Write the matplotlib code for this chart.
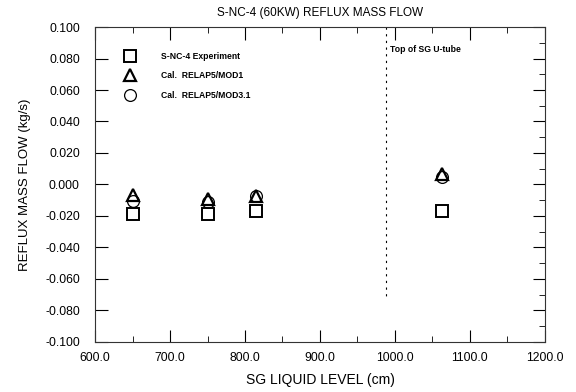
import matplotlib
matplotlib.use("Agg")
import matplotlib.pyplot as plt
from matplotlib.ticker import MultipleLocator, FormatStrFormatter

plt.rcParams['font.family'] = ['Liberation Sans', 'DejaVu Sans']

# Data
level = [650.0, 750.0, 815.0, 1063.0]
exp_flow = [-0.0185, -0.0185, -0.017, -0.017]
mod1_flow = [-0.0065, -0.009, -0.0075, 0.0065]
mod31_flow = [-0.0105, -0.011, -0.0075, 0.0045]
uTubeTop = 988.0

xticks = [600, 700, 800, 900, 1000, 1100, 1200]
yticks = [0.100, 0.080, 0.060, 0.040, 0.020, 0.000, -0.020, -0.040, -0.060, -0.080, -0.100]

fig = plt.figure(figsize=(5.76, 3.92), dpi=100)
ax = fig.add_axes([0.165, 0.128, 0.781, 0.803])

ax.plot(level, mod31_flow, linestyle='none', marker='o', markersize=8.5,
        markerfacecolor='none', markeredgecolor='black', markeredgewidth=0.9,
        label='Cal.  RELAP5/MOD3.1', zorder=3)
ax.plot(level, mod1_flow, linestyle='none', marker='^', markersize=8,
        markerfacecolor='none', markeredgecolor='black', markeredgewidth=1.6,
        label='Cal.  RELAP5/MOD1', zorder=4)
ax.plot(level, exp_flow, linestyle='none', marker='s', markersize=9,
        markerfacecolor='none', markeredgecolor='black', markeredgewidth=1.4,
        label='S-NC-4 Experiment', zorder=5)

ax.set_xlim(600, 1200)
ax.set_ylim(-0.100, 0.100)
ax.set_xticks(xticks)
ax.set_yticks(yticks)
ax.xaxis.set_major_formatter(FormatStrFormatter('%.1f'))
ax.yaxis.set_major_formatter(FormatStrFormatter('%.3f'))
ax.xaxis.set_minor_locator(MultipleLocator(50))
ax.yaxis.set_minor_locator(MultipleLocator(0.01))

ax.tick_params(axis='both', which='major', direction='in', length=9, width=0.8,
               top=True, right=True, colors='black')
ax.tick_params(axis='x', which='major', pad=7, labelsize=8.8)
ax.tick_params(axis='y', which='major', pad=11, labelsize=8.8)
ax.tick_params(axis='both', which='minor', direction='in', length=4, width=0.6,
               top=True, right=True, left=False)

for s in ax.spines.values():
    s.set_linewidth(0.8)
    s.set_color('#333333')

# Top of SG U-tube marker line
ax.plot([uTubeTop, uTubeTop], [0.100, -0.073], color='black', linewidth=0.8,
        linestyle=(0, (2, 4)), zorder=2)
ax.text(993, 0.086, 'Top of SG U-tube', fontsize=6.2, fontweight='bold',
        ha='left', va='center')

# Legend (custom positioned)
handles, labels = ax.get_legend_handles_labels()
order = [2, 1, 0]
leg = ax.legend([handles[i] for i in order], [labels[i] for i in order],
                loc='upper left', bbox_to_anchor=(0.058, 0.922), frameon=False,
                fontsize=6.2, handletextpad=2.6, labelspacing=1.25,
                borderaxespad=0.0, borderpad=0.0)
for t in leg.get_texts():
    t.set_fontweight('bold')

ax.set_title('S-NC-4 (60KW) REFLUX MASS FLOW', fontsize=8.5, pad=8)
ax.set_xlabel('SG LIQUID LEVEL (cm)', fontsize=10, labelpad=7)
ax.set_ylabel('REFLUX MASS FLOW (kg/s)', fontsize=9.5)
ax.yaxis.set_label_coords(-0.142, 0.5)

fig.savefig('out.png', dpi=100)
